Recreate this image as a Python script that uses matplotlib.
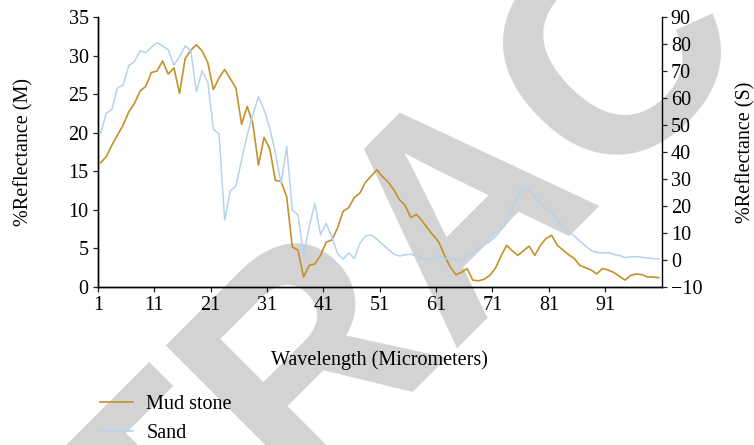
import matplotlib
matplotlib.use("Agg")
import matplotlib.pyplot as plt
import numpy as np

# wavelength index 1..100
wavelength = np.arange(1, 101)

# %Reflectance of mud stone (left axis)
mud_stone = [16.1, 16.9, 18.4, 19.7, 21.0, 22.7, 23.8, 25.4, 26.0, 27.8,
             28.0, 29.3, 27.6, 28.4, 25.1, 29.6, 30.7, 31.4, 30.6, 29.1,
             25.6, 27.1, 28.2, 27.0, 25.8, 21.1, 23.4, 21.2, 15.8, 19.4,
             17.9, 13.8, 13.7, 11.7, 5.2, 4.8, 1.3, 2.8, 3.0, 4.1,
             5.8, 6.1, 7.6, 9.8, 10.3, 11.6, 12.2, 13.6, 14.4, 15.2,
             14.3, 13.6, 12.6, 11.3, 10.6, 9.0, 9.4, 8.6, 7.6, 6.7,
             5.8, 4.1, 2.6, 1.6, 1.9, 2.4, 0.9, 0.8, 1.0, 1.5,
             2.4, 4.0, 5.4, 4.7, 4.1, 4.7, 5.3, 4.1, 5.4, 6.3,
             6.7, 5.4, 4.8, 4.2, 3.7, 2.8, 2.5, 2.2, 1.7, 2.4,
             2.2, 1.9, 1.4, 0.9, 1.5, 1.7, 1.6, 1.3, 1.3, 1.2]

# %Reflectance of sand (right axis)
sand = [46.9, 54.3, 55.8, 63.8, 64.8, 72.0, 73.5, 77.5, 76.8, 78.8,
        80.5, 79.3, 77.8, 72.2, 75.3, 79.3, 77.5, 62.3, 70.1, 66.0,
        48.4, 46.7, 14.8, 25.6, 27.4, 37.0, 46.3, 53.7, 60.5, 55.6,
        48.8, 39.5, 28.4, 42.0, 18.5, 16.7, 1.9, 12.3, 21.0, 9.3,
        13.6, 8.6, 2.5, 0.3, 2.6, 0.6, 6.2, 8.9, 9.3, 7.7,
        5.8, 4.0, 2.2, 1.5, 1.9, 2.2, 1.5, 0.6, 0.2, 0.5,
        1.5, 0.6, 0.2, 0.2, -0.6, 1.5, 2.8, 3.9, 5.6, 6.8,
        8.6, 11.1, 13.6, 19.1, 24.1, 26.7, 25.9, 23.5, 21.2, 19.1,
        17.3, 15.1, 11.7, 10.7, 8.9, 7.0, 5.2, 3.5, 2.8, 2.6,
        2.7, 2.1, 1.7, 0.9, 1.2, 1.2, 1.0, 0.7, 0.6, 0.4]

x_tick_labels = ["1", "11", "21", "31", "41", "51", "61", "71", "81", "91"]

gold = "#C59129"
light_blue = "#B5D2EF"

plt.rcParams["font.family"] = ["Liberation Serif", "DejaVu Serif"]
plt.rcParams["font.size"] = 14.5

fig = plt.figure(figsize=(7.54, 4.45), dpi=100)

# watermark behind the chart
fig.text(0.695, 0.411, "RETRACTED", fontsize=216, fontweight="bold",
         family="Liberation Sans", color="#d3d3d3", rotation=45,
         rotation_mode="anchor", ha="center", va="baseline", zorder=-1)

ax = fig.add_axes([0.1297, 0.355, 0.7478, 0.6068])
ax.patch.set_visible(False)
ax2 = ax.twinx()

l1, = ax.plot(wavelength, mud_stone, color=gold, lw=1.2, label="Mud stone")
l2, = ax2.plot(wavelength, sand, color=light_blue, lw=1.1, label="Sand")

ax.set_xlim(0.5, 100.5)
ax.set_xticks(np.arange(0.5, 100, 10))
ax.set_xticklabels(x_tick_labels)
ax.set_ylim(0, 35)
ax.set_yticks(np.arange(0, 36, 5))
ax2.set_ylim(-10, 90)
ax2.set_yticks(np.arange(-10, 91, 10))

for a in (ax, ax2):
    a.spines["top"].set_visible(False)
    for s in a.spines.values():
        s.set_linewidth(1.0)
    a.tick_params(length=3.6, width=0.9, color="#222222", pad=3)
ax.spines["right"].set_visible(False)

ax.set_xlabel("Wavelength (Micrometers)", labelpad=25)
ax.set_ylabel("%Reflectance (M)", labelpad=25)
ax2.set_ylabel("%Reflectance (S)", labelpad=24)

fig.legend(handles=[l1, l2], loc="upper left", bbox_to_anchor=(0.1326, 0.112),
           frameon=False, borderpad=0, borderaxespad=0, handlelength=1.65,
           handletextpad=0.65, labelspacing=0.5)

fig.savefig("out.png", dpi=100)
